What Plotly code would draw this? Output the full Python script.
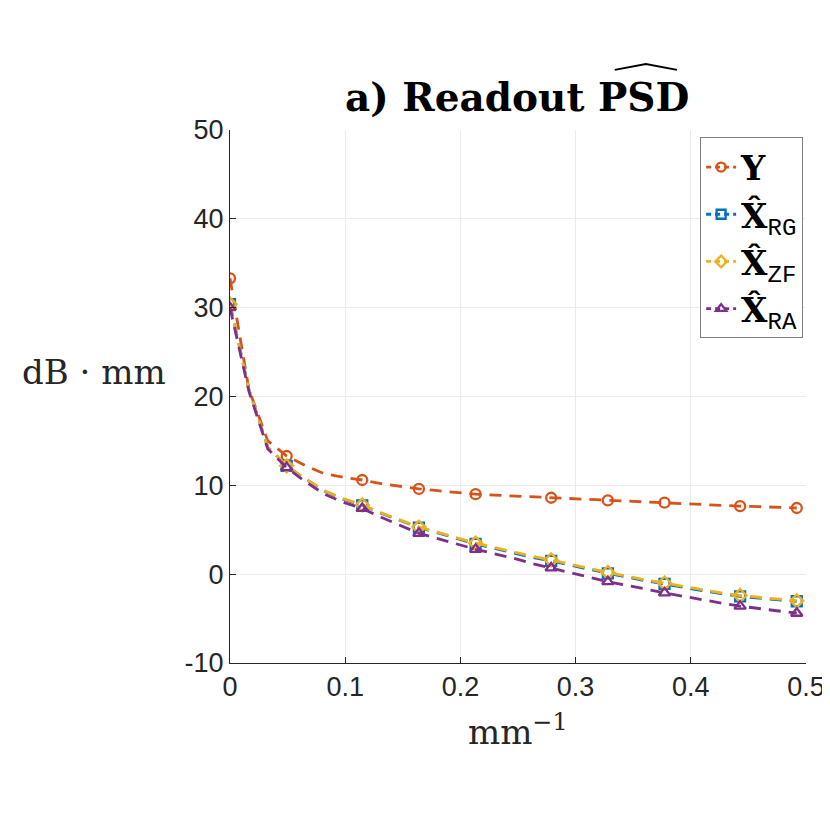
import plotly.graph_objects as go

# spatial frequency grid (mm^-1)
freq = [0.0, 0.0164, 0.0328, 0.0492, 0.0656, 0.082, 0.0984, 0.1148, 0.1312, 0.1476,
        0.164, 0.1804, 0.1968, 0.2132, 0.2296, 0.246, 0.2624, 0.2788, 0.2952, 0.3116,
        0.328, 0.3444, 0.3608, 0.3772, 0.3936, 0.41, 0.4264, 0.4428, 0.4592, 0.4756, 0.492]

# PSD in dB*mm
psd_Y = [33.3, 20.8, 15.0, 13.3, 12.2, 11.3, 10.9, 10.6, 10.2, 9.9,
         9.6, 9.4, 9.2, 9.0, 8.9, 8.8, 8.7, 8.6, 8.5, 8.4,
         8.3, 8.2, 8.1, 8.05, 7.95, 7.85, 7.75, 7.65, 7.6, 7.5, 7.45]
psd_RG = [30.4, 20.8, 14.3, 12.2, 10.7, 9.35, 8.45, 7.75, 6.85, 6.05,
          5.25, 4.65, 4.05, 3.4, 2.9, 2.4, 1.9, 1.5, 1.0, 0.55,
          0.1, -0.35, -0.75, -1.1, -1.5, -1.85, -2.2, -2.5, -2.7, -2.9, -3.05]
psd_ZF = [30.4, 20.8, 14.3, 12.2, 10.7, 9.4, 8.5, 7.8, 6.9, 6.1,
          5.3, 4.7, 4.1, 3.5, 3.0, 2.5, 2.0, 1.6, 1.1, 0.65,
          0.2, -0.25, -0.65, -1.0, -1.4, -1.75, -2.1, -2.4, -2.6, -2.8, -3.0]
psd_RA = [30.0, 20.6, 14.1, 12.0, 10.4, 9.0, 8.1, 7.4, 6.4, 5.5,
          4.6, 4.0, 3.4, 2.8, 2.3, 1.8, 1.2, 0.7, 0.2, -0.3,
          -0.85, -1.25, -1.7, -2.1, -2.5, -2.9, -3.25, -3.6, -3.85, -4.1, -4.4]

# points that carry a marker
mark_idx = [0, 3, 7, 10, 13, 17, 20, 23, 27, 30]

sub = "<sub><span style=\"font-family:'Liberation Mono', monospace;font-size:24px\">%s</span></sub>"
series = [
    ("<b>Y</b>", psd_Y, "#D95319", "circle-open"),
    ("<b>X\u0302</b>" + sub % "RG", psd_RG, "#0072BD", "square-open"),
    ("<b>X\u0302</b>" + sub % "ZF", psd_ZF, "#EDB120", "diamond-open"),
    ("<b>X\u0302</b>" + sub % "RA", psd_RA, "#7E2F8E", "triangle-up-open"),
]

fig = go.Figure()
for name, vals, col, sym in series:
    fig.add_trace(go.Scatter(x=freq, y=vals, mode="lines", showlegend=False,
                             line=dict(color=col, width=2.8, dash="12px,8px")))
    fig.add_trace(go.Scatter(x=[freq[i] for i in mark_idx], y=[vals[i] for i in mark_idx],
                             mode="markers", showlegend=False,
                             marker=dict(symbol=sym, size=10, color=col, line=dict(width=2.3, color=col))))
    # legend entry only
    fig.add_trace(go.Scatter(x=[None], y=[None], mode="lines+markers", name=name,
                             line=dict(color=col, width=2.8, dash="5px,4px"),
                             marker=dict(symbol=sym, size=9, color=col, line=dict(width=2.3, color=col))))

axcol = "#262626"
fig.update_xaxes(range=[0, 0.5], tickvals=[0, 0.1, 0.2, 0.3, 0.4, 0.5],
                 ticktext=["0", "0.1", "0.2", "0.3", "0.4", "0.5"],
                 showline=True, linecolor=axcol, linewidth=1, ticks="inside", ticklen=6,
                 tickcolor=axcol, showgrid=True, gridcolor="#ebebeb", zeroline=False,
                 tickfont=dict(family="Liberation Sans", size=27, color=axcol))
fig.update_yaxes(range=[-10, 50], tickvals=[-10, 0, 10, 20, 30, 40, 50],
                 ticktext=["-10", "0", "10", "20", "30", "40", "50"],
                 showline=True, linecolor=axcol, linewidth=1, ticks="inside", ticklen=6,
                 tickcolor=axcol, showgrid=True, gridcolor="#ebebeb", zeroline=False,
                 tickfont=dict(family="Liberation Sans", size=27, color=axcol))

fig.add_annotation(text="<b>a) Readout PSD</b>", xref="paper", yref="paper", x=0.499, y=1.062,
                   xanchor="center", yanchor="middle",
                   showarrow=False, font=dict(family="DejaVu Serif", size=39, color="black"))
# wide hat over PSD
fig.add_shape(type="path", xref="paper", yref="paper",
              path="M 0.668,1.1126 L 0.722,1.1238 L 0.776,1.1126",
              line=dict(color="black", width=1.8))
fig.add_annotation(text="dB \u00b7 mm", xref="paper", yref="paper", x=-0.236, y=0.546,
                   xanchor="center", yanchor="middle",
                   showarrow=False, font=dict(family="DejaVu Serif", size=34, color=axcol))
fig.add_annotation(text="mm<sup>\u22121</sup>", xref="paper", yref="paper", x=0.5, y=-0.126,
                   xanchor="center", yanchor="middle",
                   showarrow=False, font=dict(family="DejaVu Serif", size=34, color=axcol))

fig.update_layout(
    width=830, height=830,
    margin=dict(l=222, r=32, t=122, b=175),
    paper_bgcolor="white", plot_bgcolor="white",
    legend=dict(x=0.995, y=0.986, xanchor="right", yanchor="top",
                bgcolor="white", bordercolor="#7f7f7f", borderwidth=1,
                font=dict(family="DejaVu Serif", size=34, color="black"),
                tracegroupgap=0),
)

fig.write_html("out.html")
